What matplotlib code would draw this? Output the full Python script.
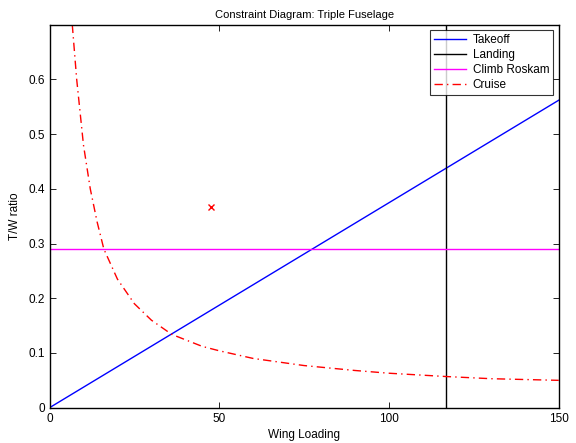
import matplotlib
matplotlib.use("Agg")
import matplotlib.pyplot as plt
import numpy as np

plt.rcParams['font.family'] = ['Liberation Sans', 'DejaVu Sans']

# Wing loading range and constraint values
wing_loading_limits = [0, 150]
takeoff_tw_at_limits = [0.0, 0.562]
landing_wing_loading = 116.7
climb_tw = 0.29

cruise_wing_loading = [6.7, 8, 10, 12, 14, 16, 20, 25, 30, 36, 45, 50, 60, 75, 90, 100, 116.7, 130, 150]
cruise_tw = [0.70, 0.60, 0.48, 0.40, 0.34, 0.29, 0.235, 0.19, 0.16, 0.134, 0.112, 0.104,
             0.090, 0.077, 0.068, 0.063, 0.057, 0.053, 0.050]

design_point = (47.5, 0.366)

fig = plt.figure(figsize=(5.76, 4.43), dpi=100)
ax = fig.add_axes([0.086, 0.0797, 0.884, 0.8645])

ax.plot(wing_loading_limits, takeoff_tw_at_limits, color='#0000ff', lw=1.0, label='Takeoff')
ax.axvline(landing_wing_loading, color='black', lw=1.0, label='Landing')
ax.axhline(climb_tw, color='#ff00ff', lw=1.0, label='Climb Roskam')
ax.plot(cruise_wing_loading, cruise_tw, color='#ff0000', lw=1.0, ls='-.',
        dashes=(6, 3, 1, 3), label='Cruise')
ax.plot(*design_point, 'x', color='#ff0000', ms=4, mew=1.0)

ax.set_xlim(0, 150)
ax.set_ylim(0, 0.7)
ax.set_xticks([0, 50, 100, 150])
ax.set_yticks([0, 0.1, 0.2, 0.3, 0.4, 0.5, 0.6])
ax.set_yticklabels(['0', '0.1', '0.2', '0.3', '0.4', '0.5', '0.6'])
ax.tick_params(direction='in', top=True, right=True, labelsize=8.5, length=4, width=0.6)
for s in ax.spines.values():
    s.set_linewidth(1.0)

ax.set_xlabel('Wing Loading', fontsize=8.5, labelpad=3)
ax.set_ylabel('T/W ratio', fontsize=8.5, labelpad=5)
ax.set_title('Constraint Diagram: Triple Fuselage', fontsize=8, pad=5)

leg = ax.legend(loc='upper right', fontsize=8.5, frameon=True, fancybox=False,
                edgecolor='black', handlelength=2.7, borderpad=0.35, labelspacing=0.25,
                handletextpad=0.6, borderaxespad=0.45)
leg.get_frame().set_linewidth(0.8)

fig.savefig('out.png', dpi=100)
